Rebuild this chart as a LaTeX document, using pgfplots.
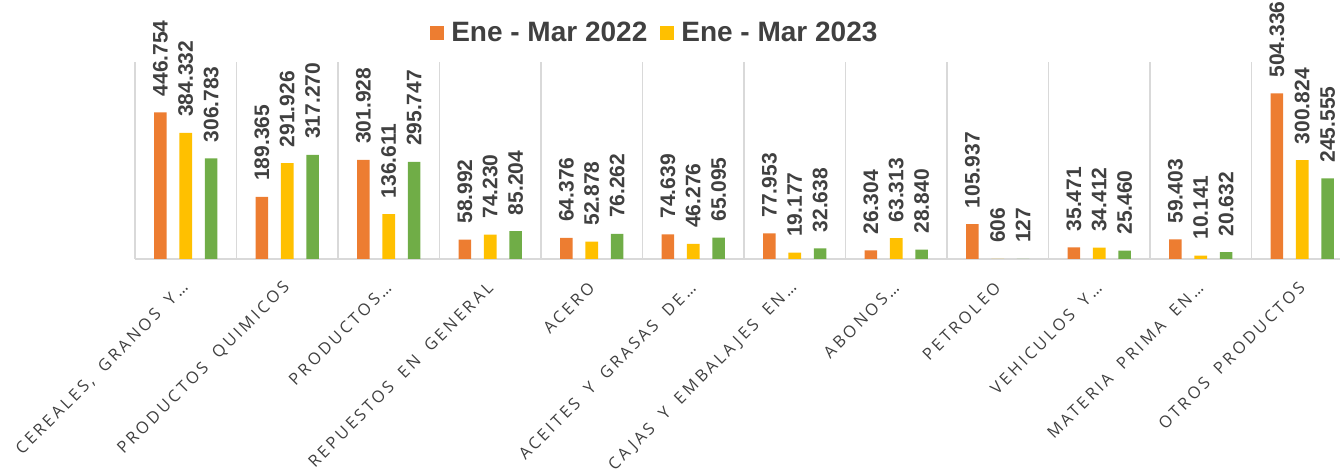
\documentclass[border=0pt]{standalone}
\usepackage{fontspec}
\setmainfont{Liberation Sans}
\newfontfamily\tickfont[LetterSpace=18, WordSpace=1.8]{Open Sans}
\usepackage{pgfplots}
\usepackage{pgfplotstable}
\pgfplotsset{compat=1.18}
\definecolor{c22}{HTML}{ED7D31}
\definecolor{c23}{HTML}{FFC000}
\definecolor{c24}{HTML}{70AD47}
\definecolor{txt}{HTML}{404040}
\definecolor{grd}{HTML}{D9D9D9}

% x a=Ene-Mar 2022, b=Ene-Mar 2023, c=third series (no legend entry)
\pgfplotstableread{
x a b c
0 446754 384332 306783
1 189365 291926 317270
2 301928 136611 295747
3 58992 74230 85204
4 64376 52878 76262
5 74639 46276 65095
6 77953 19177 32638
7 26304 63313 28840
8 105937 606 127
9 35471 34412 25460
10 59403 10141 20632
11 504336 300824 245555
}\datos

\begin{document}
\begin{tikzpicture}
\useasboundingbox (0,0) rectangle (670pt,237pt);
\begin{axis}[
  at={(67.5pt,107.5pt)}, anchor=south west,
  scale only axis, width=609pt, height=98.5pt,
  ymin=0, ymax=600000, xmin=-0.5, xmax=11.5,
  clip=false,
  ybar, bar width=6.3pt,
  axis x line*=bottom, axis y line=none,
  x axis line style={draw=grd, line width=0.75pt, -},
  xtick={0,...,11},
  xticklabels={CEREALES{,} GRANOS Y…, PRODUCTOS QUIMICOS, PRODUCTOS…,
    REPUESTOS EN GENERAL, ACERO, ACEITES Y GRASAS DE…, CAJAS Y EMBALAJES EN…,
    ABONOS…, PETROLEO, VEHICULOS Y…, MATERIA PRIMA EN…, OTROS PRODUCTOS},
  minor xtick={-0.5,0.5,...,11.5}, xminorgrids,
  minor grid style={draw=grd, line width=0.75pt},
  major tick length=0pt, minor tick length=0pt,
  xticklabel style={font=\tickfont\fontsize{8.2}{9}\selectfont, text=txt,
    rotate=45, anchor=east, inner sep=0pt},
  xticklabel shift=13pt,
  nodes near coords,
  every node near coord/.append style={rotate=90, anchor=west,
    font=\bfseries\fontsize{10.5}{12}\selectfont, text=txt,
    inner sep=0pt, outer xsep=8pt},
  /pgf/number format/fixed,
  /pgf/number format/precision=0,
  /pgf/number format/1000 sep={.},
  /pgf/number format/assume math mode=true,
  legend style={at={(0.426,1.147)}, anchor=center, draw=none, fill=none,
    font=\bfseries\fontsize{14}{16}\selectfont, text=txt, inner sep=0pt,
    nodes={inner sep=0pt},
    /tikz/every odd column/.append style={column sep=3.5pt},
    /tikz/every even column/.append style={column sep=6.5pt}},
  legend columns=-1,
  legend image code/.code={\fill[#1] (0pt,-3.5pt) rectangle (7pt,3.5pt);},
]
\addplot[fill=c22, draw=none, bar shift=-12.7pt] table[x=x, y=a] {\datos};
\addplot[fill=c23, draw=none, bar shift=0pt] table[x=x, y=b] {\datos};
\addplot[fill=c24, draw=none, bar shift=12.7pt, forget plot] table[x=x, y=c] {\datos};
\legend{Ene - Mar 2022, Ene - Mar 2023}
\end{axis}
\end{tikzpicture}
\end{document}
